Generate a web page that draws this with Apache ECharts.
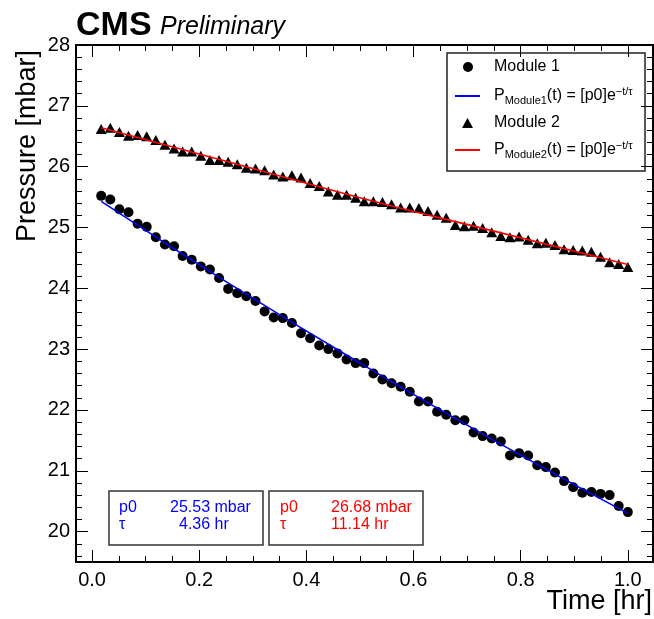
<!DOCTYPE html>
<html>
<head>
<meta charset="utf-8">
<script src="https://cdn.jsdelivr.net/npm/echarts@6/dist/echarts.min.js"></script>
<style>
  html, body { margin: 0; padding: 0; background: #fff; }
  #chart { width: 654px; height: 619px; }
</style>
</head>
<body>
<div id="chart"></div>
<script>
// time of each measurement [hr]
var times = [0.017, 0.034, 0.051, 0.068, 0.085, 0.102, 0.119, 0.136, 0.153, 0.169,
  0.186, 0.203, 0.220, 0.237, 0.254, 0.271, 0.288, 0.305, 0.322, 0.339,
  0.356, 0.373, 0.390, 0.407, 0.424, 0.441, 0.458, 0.475, 0.492, 0.508,
  0.525, 0.542, 0.559, 0.576, 0.593, 0.610, 0.627, 0.644, 0.661, 0.678,
  0.695, 0.712, 0.729, 0.746, 0.763, 0.780, 0.797, 0.814, 0.831, 0.847,
  0.864, 0.881, 0.898, 0.915, 0.932, 0.949, 0.966, 0.983, 1.000];

// pressure [mbar]
var module1 = [25.52, 25.46, 25.30, 25.25, 25.06, 25.01, 24.84, 24.72, 24.69, 24.53,
  24.47, 24.36, 24.31, 24.17, 23.99, 23.92, 23.87, 23.79, 23.62, 23.52,
  23.51, 23.43, 23.26, 23.18, 23.06, 23.00, 22.93, 22.83, 22.77, 22.77,
  22.60, 22.50, 22.44, 22.38, 22.30, 22.14, 22.14, 21.97, 21.92, 21.83,
  21.83, 21.63, 21.57, 21.53, 21.48, 21.25, 21.29, 21.25, 21.09, 21.06,
  20.97, 20.83, 20.73, 20.64, 20.65, 20.62, 20.60, 20.42, 20.32];

var module2 = [26.62, 26.64, 26.57, 26.51, 26.52, 26.50, 26.44, 26.36, 26.30, 26.25,
  26.25, 26.18, 26.11, 26.11, 26.08, 26.04, 25.98, 25.97, 25.94, 25.87,
  25.84, 25.86, 25.82, 25.73, 25.68, 25.59, 25.54, 25.54, 25.49, 25.43,
  25.43, 25.42, 25.38, 25.33, 25.33, 25.32, 25.27, 25.21, 25.16, 25.04,
  25.02, 25.03, 24.99, 24.92, 24.86, 24.84, 24.85, 24.80, 24.74, 24.75,
  24.71, 24.64, 24.63, 24.62, 24.60, 24.52, 24.43, 24.40, 24.35];

// fit curves
var fitTimes = [0.017, 0.25, 0.5, 0.75, 1.0];
var fit1 = [25.43, 24.11, 22.77, 21.50, 20.30];
var fit2 = [26.64, 26.09, 25.49, 24.94, 24.39];

// fit parameters shown in the boxes
var fit1Params = ["25.53 mbar", "4.36 hr"];
var fit2Params = ["26.68 mbar", "11.14 hr"];

// axis ticks
var xMajor = [0, 0.2, 0.4, 0.6, 0.8, 1.0];
var xMinor = [0.05, 0.1, 0.15, 0.25, 0.3, 0.35, 0.45, 0.5, 0.55, 0.65, 0.7, 0.75, 0.85, 0.9, 0.95];
var yMajor = [20, 21, 22, 23, 24, 25, 26, 27, 28];
var yMinor = [19.6, 19.8, 20.2, 20.4, 20.6, 20.8, 21.2, 21.4, 21.6, 21.8,
  22.2, 22.4, 22.6, 22.8, 23.2, 23.4, 23.6, 23.8, 24.2, 24.4, 24.6, 24.8,
  25.2, 25.4, 25.6, 25.8, 26.2, 26.4, 26.6, 26.8, 27.2, 27.4, 27.6, 27.8];

var FONT = "'Liberation Sans', Arial, Helvetica, sans-serif";
var XMIN = -0.03, XMAX = 1.047, YMIN = 19.5, YMAX = 28;

function pairs(xs, ys) {
  var arr = [];
  for (var i = 0; i < ys.length; i++) {
    arr.push([xs[i], ys[i]]);
  }
  return arr;
}

function tickAxis(pos, isX, values, len, showLine, showLabel) {
  var ax = {
    type: "value",
    position: pos,
    min: isX ? XMIN : YMIN,
    max: isX ? XMAX : YMAX,
    splitLine: { show: false },
    axisLine: { show: showLine, onZero: false, lineStyle: { color: "#000", width: 2 } },
    axisTick: { show: true, inside: true, length: len, customValues: values, lineStyle: { color: "#000", width: 1 } },
    axisLabel: { show: false }
  };
  if (showLabel) {
    ax.axisLabel = {
      show: true,
      customValues: values,
      color: "#000",
      fontFamily: FONT,
      fontSize: 20,
      margin: isX ? 8 : 6,
      formatter: function (v) { return isX ? v.toFixed(1) : String(v); }
    };
  }
  return ax;
}

var richFormula = {
  n: { fontFamily: FONT, fontSize: 16, color: "#000" },
  s: { fontFamily: FONT, fontSize: 11, color: "#000", padding: [9, 0, 0, 0] },
  u: { fontFamily: FONT, fontSize: 11, color: "#000", padding: [0, 0, 9, 0] }
};

function legendBox(name, left, top, w, h, icon, rich) {
  var lg = {
    data: [{ name: name, icon: icon }],
    left: left,
    top: top,
    padding: 0,
    itemWidth: w,
    itemHeight: h,
    selectedMode: false,
    textStyle: { fontFamily: FONT, fontSize: 16, color: "#000", padding: [0, 0, 0, rich ? 9 : 16] }
  };
  if (rich) {
    lg.formatter = function (n) {
      return n === "fit1" ? "{n|P}{s|Module1}{n|(t) = [p0]e}{u|−t/τ}"
                          : "{n|P}{s|Module2}{n|(t) = [p0]e}{u|−t/τ}";
    };
    lg.textStyle.rich = richFormula;
  }
  return lg;
}

var chart = echarts.init(document.getElementById("chart"));
var option = {
  animation: false,
  backgroundColor: "#fff",
  grid: { left: 76, right: 1, top: 45, bottom: 57 },
  xAxis: [
    tickAxis("bottom", true, xMajor, 12, true, true),
    tickAxis("bottom", true, xMinor, 6, false, false),
    tickAxis("top", true, xMajor, 12, true, false),
    tickAxis("top", true, xMinor, 6, false, false)
  ],
  yAxis: [
    tickAxis("left", false, yMajor, 12, true, true),
    tickAxis("left", false, yMinor, 6, false, false),
    tickAxis("right", false, yMajor, 12, true, false),
    tickAxis("right", false, yMinor, 6, false, false)
  ],
  legend: [
    legendBox("Module 1", 463, 59, 10, 10, "circle", false),
    legendBox("fit1", 455, 86, 25, 2, "rect", true),
    legendBox("Module 2", 462, 115, 11, 10, "triangle", false),
    legendBox("fit2", 455, 140, 25, 2, "rect", true)
  ],
  series: [
    {
      name: "Module 1",
      type: "scatter",
      symbol: "circle",
      symbolSize: 10,
      itemStyle: { color: "#000", opacity: 1 },
      data: pairs(times, module1)
    },
    {
      name: "Module 2",
      type: "scatter",
      symbol: "triangle",
      symbolSize: [11, 10],
      itemStyle: { color: "#000", opacity: 1 },
      data: pairs(times, module2)
    },
    {
      name: "fit1",
      type: "line",
      symbol: "none",
      smooth: true,
      z: 5,
      lineStyle: { color: "#0000ff", width: 1.6 },
      itemStyle: { color: "#0000ff" },
      data: pairs(fitTimes, fit1)
    },
    {
      name: "fit2",
      type: "line",
      symbol: "none",
      smooth: true,
      z: 5,
      lineStyle: { color: "#ff0000", width: 1.6 },
      itemStyle: { color: "#ff0000" },
      data: pairs(fitTimes, fit2)
    }
  ],
  graphic: [
    { type: "text", x: 76, y: 26, style: { text: "CMS", font: "bold 34px " + FONT, fill: "#000", textVerticalAlign: "middle" } },
    { type: "text", x: 160, y: 27, style: { text: "Preliminary", font: "italic 25px " + FONT, fill: "#000", textVerticalAlign: "middle" } },
    { type: "text", x: 652, y: 602, style: { text: "Time [hr]", font: "27px " + FONT, fill: "#000", textAlign: "right", textVerticalAlign: "middle" } },
    { type: "text", x: 28, y: 50, rotation: Math.PI / 2, style: { text: "Pressure [mbar]", font: "27px " + FONT, fill: "#000", textAlign: "right", textVerticalAlign: "middle" } },
    // legend frame
    { type: "rect", shape: { x: 447, y: 53, width: 198, height: 118 }, style: { fill: "none", stroke: "#222", lineWidth: 1.5 }, z: 1 },
    // fit parameter boxes
    { type: "rect", shape: { x: 109, y: 491, width: 154, height: 54 }, style: { fill: "#fff", stroke: "#333", lineWidth: 1.5 }, z: 1 },
    { type: "rect", shape: { x: 269, y: 491, width: 154, height: 54 }, style: { fill: "#fff", stroke: "#333", lineWidth: 1.5 }, z: 1 },
    { type: "text", x: 119, y: 508, z: 2, style: { text: "p0", font: "16px " + FONT, fill: "#0000ff", textVerticalAlign: "middle" } },
    { type: "text", x: 119, y: 525, z: 2, style: { text: "τ", font: "16px " + FONT, fill: "#0000ff", textVerticalAlign: "middle" } },
    { type: "text", x: 170, y: 508, z: 2, style: { text: fit1Params[0], font: "16px " + FONT, fill: "#0000ff", textVerticalAlign: "middle" } },
    { type: "text", x: 179, y: 525, z: 2, style: { text: fit1Params[1], font: "16px " + FONT, fill: "#0000ff", textVerticalAlign: "middle" } },
    { type: "text", x: 280, y: 508, z: 2, style: { text: "p0", font: "16px " + FONT, fill: "#ff0000", textVerticalAlign: "middle" } },
    { type: "text", x: 280, y: 525, z: 2, style: { text: "τ", font: "16px " + FONT, fill: "#ff0000", textVerticalAlign: "middle" } },
    { type: "text", x: 331, y: 508, z: 2, style: { text: fit2Params[0], font: "16px " + FONT, fill: "#ff0000", textVerticalAlign: "middle" } },
    { type: "text", x: 331, y: 525, z: 2, style: { text: fit2Params[1], font: "16px " + FONT, fill: "#ff0000", textVerticalAlign: "middle" } }
  ]
};
chart.setOption(option);
</script>
</body>
</html>
